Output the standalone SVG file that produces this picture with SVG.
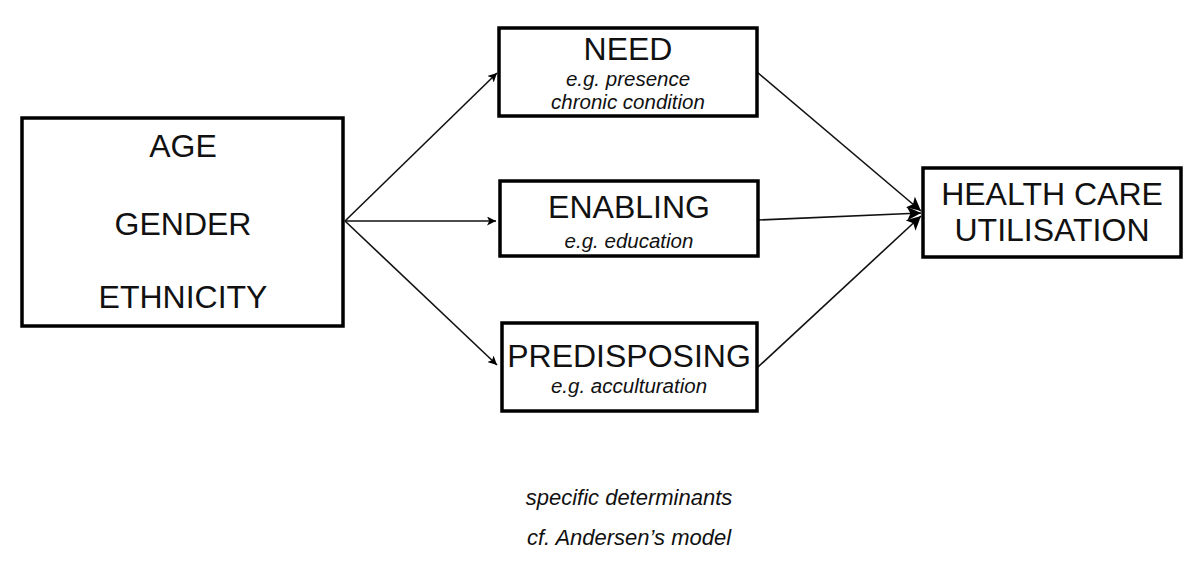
<svg xmlns="http://www.w3.org/2000/svg" width="1200" height="568" viewBox="0 0 1200 568">
<style>
.box{fill:#fff;stroke:#000;stroke-width:3.5}
.big{font-family:"Liberation Sans",Arial,sans-serif;font-size:32px;fill:#111;text-anchor:middle}
.sm{font-family:"Liberation Sans",Arial,sans-serif;font-size:20.5px;font-style:italic;fill:#111;text-anchor:middle}
.cap{font-family:"Liberation Sans",Arial,sans-serif;font-size:22px;font-style:italic;fill:#111;text-anchor:middle}
.con{stroke:#111;stroke-width:1.6;fill:none;marker-end:url(#ah)}
</style>
<defs>
<marker id="ah" viewBox="0 0 10 10" refX="10" refY="5" markerWidth="9" markerHeight="9" markerUnits="userSpaceOnUse" orient="auto">
<path d="M0,0 L10,5 L0,10 L2.5,5 Z" fill="#000"/>
</marker>
<marker id="ahb" viewBox="0 0 10 10" refX="10" refY="5" markerWidth="14" markerHeight="14" markerUnits="userSpaceOnUse" orient="auto">
<path d="M0,0 L10,5 L0,10 L2.5,5 Z" fill="#000"/>
</marker>
</defs>
<rect width="1200" height="568" fill="#fff"/>
<g id="connectors">
<line class="con" x1="345" y1="221" x2="497" y2="73"/>
<line class="con" x1="345" y1="221" x2="496" y2="221"/>
<line class="con" x1="345" y1="221" x2="497" y2="365"/>
<line class="con" x1="757" y1="72" x2="921" y2="211" style="marker-end:url(#ahb)"/>
<line class="con" x1="758" y1="220" x2="921" y2="213" style="marker-end:url(#ahb)"/>
<line class="con" x1="758" y1="367" x2="921" y2="216" style="marker-end:url(#ahb)"/>
</g>
<g id="demographics">
<rect class="box" x="22" y="118" width="321" height="208" stroke-width="4"/>
<text class="big" x="183" y="157">AGE</text>
<text class="big" x="183" y="235">GENDER</text>
<text class="big" x="183" y="308">ETHNICITY</text>
</g>
<g id="need">
<rect class="box" x="499" y="28" width="258" height="88"/>
<text class="big" x="628" y="60">NEED</text>
<text class="sm" x="628" y="86">e.g. presence</text>
<text class="sm" x="628" y="109">chronic condition</text>
</g>
<g id="enabling">
<rect class="box" x="500" y="181" width="258" height="75"/>
<text class="big" x="629" y="218">ENABLING</text>
<text class="sm" x="629" y="248">e.g. education</text>
</g>
<g id="predisposing">
<rect class="box" x="502" y="323" width="255" height="88"/>
<text class="big" x="629" y="367">PREDISPOSING</text>
<text class="sm" x="629" y="393">e.g. acculturation</text>
</g>
<g id="utilisation">
<rect class="box" x="923" y="168" width="258" height="89"/>
<text class="big" x="1052" y="205">HEALTH CARE</text>
<text class="big" x="1052" y="241">UTILISATION</text>
</g>
<g id="caption">
<text class="cap" x="629" y="505">specific determinants</text>
<text class="cap" x="629" y="545">cf. Andersen’s model</text>
</g>
</svg>
